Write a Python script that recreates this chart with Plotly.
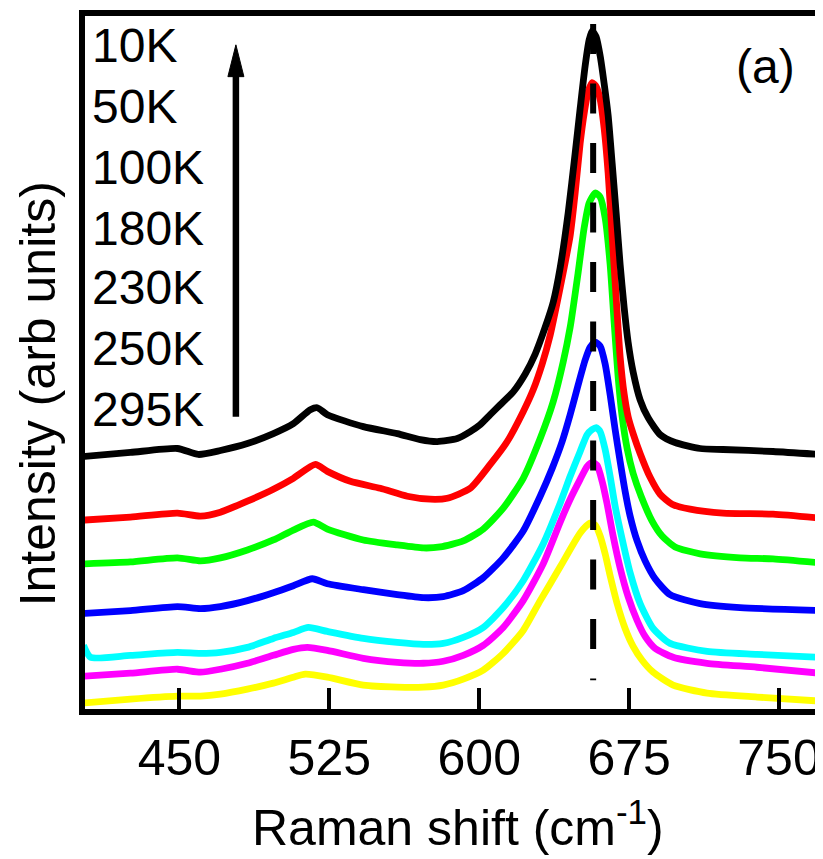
import plotly.graph_objects as go

# ---------------- data ----------------
temperatures = ["10K", "50K", "100K", "180K", "230K", "250K", "295K"]
colors = ["#000000", "#ff0000", "#00ff00", "#0000ff", "#00ffff", "#ff00ff", "#ffff00"]

shift_10K = [402, 425.5, 449, 459.5, 470.5, 484, 497, 507, 515.5, 519, 524, 542, 559, 570.5, 579, 589, 595.5,
             600.5, 605.5, 610.5, 617, 623, 628, 633, 637, 640.5, 644.5, 648, 650.5, 653, 655, 656.5, 658.5,
             660.5, 662.5, 664.5, 666.5, 668.5, 670.5, 672.5, 674.5, 677, 680.5, 684.5, 690.5, 698, 710.5,
             722, 747, 770.5]
int_10K = [25.7, 26.1, 26.5, 25.9, 26.3, 27.0, 28.0, 29.0, 30.4, 30.6, 29.9, 28.7, 28.0, 27.4, 27.2, 27.5, 28.2,
           28.9, 29.9, 30.9, 32.2, 34.0, 36.0, 38.7, 41.2, 44.7, 50.2, 56.2, 60.7, 65.0, 67.6, 68.5, 67.9,
           66.0, 63.2, 60.0, 55.2, 50.2, 45.0, 40.7, 37.2, 34.2, 31.4, 29.6, 27.9, 27.1, 26.5,
           26.4, 26.2, 25.9]

shift_50K = [402, 425.5, 449, 460.5, 470.5, 484, 497, 507, 518, 524, 535.5, 550.5, 564, 575.5, 584, 595.5, 605.5,
             614, 622, 627, 631.5, 635.5, 639, 642, 645.5, 648, 650.5, 652.5, 654.5, 656.5, 658.5, 660.5,
             662.5, 664.5, 666.5, 668.5, 670.5, 672.5, 674.5, 677, 680.5, 685.5, 690.5, 696.5, 705.5, 722,
             747, 770.5]
int_50K = [19.3, 19.6, 20.0, 19.7, 20.1, 21.2, 22.4, 23.5, 24.9, 24.2, 23.2, 22.5, 21.7, 21.4, 21.5, 22.5, 24.9,
           27.2, 30.2, 32.4, 35.0, 37.9, 41.2, 44.2, 47.9, 52.2, 57.2, 60.2, 62.4, 63.3, 62.9, 61.6,
           58.7, 54.2, 47.9, 41.7, 35.7, 32.0, 29.7, 28.0, 26.0, 23.6, 21.9, 20.9, 20.4, 20.0,
           19.9, 19.5]

shift_100K = [402, 425.5, 449, 460.5, 470.5, 484, 497, 507, 517, 524, 542, 559, 572, 580.5, 592, 602, 612, 622,
              630.5, 637, 642, 645.5, 649.5, 652.5, 655, 658, 660.5, 663, 665.5, 667.5, 669.5, 671.5, 674,
              677, 681, 686.5, 691.5, 698, 710.5, 730.5, 747, 770.5]
int_100K = [14.9, 15.1, 15.5, 15.2, 15.5, 16.3, 17.3, 18.3, 19.1, 18.4, 17.3, 16.8, 16.5, 16.6, 17.2, 18.4, 20.5,
            23.5, 27.5, 31.2, 35.2, 38.7, 44.2, 48.7, 51.2, 52.2, 51.8, 49.7, 45.0, 39.2, 33.7, 29.7, 26.5,
            24.0, 21.7, 19.2, 17.7, 16.6, 15.9, 15.5, 15.4, 15.0]

shift_180K = [402, 425.5, 449, 460.5, 470.5, 484, 497, 507, 516.5, 524, 542, 559, 572, 582, 592, 602, 612, 622,
              630.5, 636.5, 641.5, 645.5, 649.5, 653, 655.5, 658, 660.5, 663, 665.5, 668, 670.5, 673, 675.5,
              679, 683, 688, 695.5, 710.5, 730.5, 770.5]
int_180K = [9.9, 10.2, 10.6, 10.4, 10.6, 11.2, 12.0, 12.7, 13.4, 12.9, 12.3, 11.8, 11.5, 11.6, 12.2, 13.5, 15.5,
            18.2, 21.7, 24.5, 27.2, 29.9, 32.9, 35.4, 36.7, 37.2, 36.8, 35.0, 31.9, 28.4, 25.2, 22.2, 19.7,
            17.2, 15.2, 13.4, 11.8, 10.9, 10.5, 10.2]

shift_230K = [402, 405.5, 425.5, 449, 460.5, 470.5, 484, 497, 507, 514.5, 524, 542, 559, 572, 582, 592, 602, 612,
              622, 632, 640.5, 645.5, 650.5, 654, 656.5, 658.5, 660.5, 663, 665.5, 668, 671.5, 675.5, 680.5,
              687, 695.5, 714, 739, 770.5]
int_230K = [6.7, 5.5, 5.7, 6.0, 5.9, 6.0, 6.5, 7.4, 8.0, 8.5, 8.1, 7.4, 7.0, 6.8, 6.9, 7.5, 8.5, 10.5,
            13.2, 16.9, 21.0, 23.7, 26.2, 27.9, 28.4, 28.6, 28.2, 26.4, 23.7, 20.7, 17.4, 14.0, 10.9,
            8.4, 6.9, 6.1, 5.8, 5.5]

shift_250K = [402, 425.5, 449, 460.5, 470.5, 484, 497, 507, 514, 524, 542, 559, 572, 582, 592, 602, 612, 622,
              632, 640.5, 645.5, 650.5, 654, 656.5, 659, 661.5, 664, 667, 670.5, 674.5, 679, 683, 688, 697,
              714, 739, 770.5]
int_250K = [3.6, 3.9, 4.3, 4.0, 4.3, 4.9, 5.7, 6.3, 6.5, 6.2, 5.4, 5.0, 4.9, 5.1, 5.7, 6.7, 8.5, 11.2,
            14.9, 19.1, 21.4, 23.4, 24.7, 25.1, 24.8, 23.2, 20.9, 17.7, 14.5, 11.6, 9.2, 7.6, 6.4, 5.5,
            4.9, 4.5, 3.9]

shift_295K = [402, 425.5, 449, 460.5, 470.5, 484, 497, 507, 513, 524, 542, 559, 572, 582, 592, 602, 612, 622,
              630.5, 640.5, 646.5, 650.5, 653.5, 655.5, 658, 660.5, 663, 665.5, 669, 673, 677, 681.5, 687, 697,
              714, 739, 770.5]
int_295K = [0.9, 1.3, 1.6, 1.6, 1.8, 2.3, 2.9, 3.5, 3.8, 3.5, 2.7, 2.5, 2.5, 2.7, 3.3, 4.2, 5.9, 8.2,
            11.2, 14.6, 16.7, 18.0, 18.7, 19.0, 18.8, 17.7, 15.9, 13.7, 10.9, 8.4, 6.6, 5.2, 4.0, 2.7,
            1.9, 1.5, 1.1]

x_ticks = [450, 525, 600, 675, 750]
peak_position = 657            # cm^-1, dashed guide line
peak_guide_span = [69.2, 3.2]  # intensity extent of the guide

series_shift = [shift_10K, shift_50K, shift_100K, shift_180K, shift_230K, shift_250K, shift_295K]
series_int = [int_10K, int_50K, int_100K, int_180K, int_230K, int_250K, int_295K]

FONT = "Liberation Sans, Arial, Helvetica, sans-serif"

# plot area in page pixels (page has an 8px body margin); axis lines sit just outside it
PL, PR, PT, PB = 84.5, 821, 12, 709
X_RANGE = [450 + (PL - 179) / 2, 450 + (PR - 179) / 2]
Y_RANGE = [(712 - PB) / 10, (712 - PT) / 10]
FIG_W, FIG_H = 815, 851


def px_x(px):
    return (px - PL) / (PR - PL)


def px_y(py):
    return (PB - py) / (PB - PT)


fig = go.Figure()

# draw from the bottom (295K) to the top (10K)
for name, col, xs, ys in reversed(list(zip(temperatures, colors, series_shift, series_int))):
    fig.add_trace(go.Scatter(x=xs, y=ys, mode="lines", name=name,
                             line=dict(color=col, width=6.8, shape="spline", smoothing=0.6),
                             showlegend=False, hoverinfo="skip"))

# dashed peak guide
fig.add_trace(go.Scatter(x=[peak_position, peak_position], y=peak_guide_span, mode="lines",
                         line=dict(color="black", width=6, dash="30px,29.5px"),
                         showlegend=False, hoverinfo="skip"))

fig.update_layout(
    width=FIG_W, height=FIG_H,
    margin=dict(l=PL - 8, r=FIG_W - (PR - 8), t=PT - 8, b=FIG_H - (PB - 8), pad=0),
    paper_bgcolor="white", plot_bgcolor="white",
    font=dict(family=FONT, size=50, color="black"),
    xaxis=dict(range=X_RANGE, tickvals=x_ticks, ticks="inside", ticklen=21, tickwidth=4,
               tickcolor="black", showline=True, linewidth=6, linecolor="black", mirror=True,
               showgrid=False, zeroline=False, tickfont=dict(size=50, family=FONT)),
    yaxis=dict(range=Y_RANGE, showticklabels=False, ticks="", showline=True, linewidth=6,
               linecolor="black", showgrid=False, zeroline=False),
)

# axis titles
fig.add_annotation(text="Raman shift (cm<sup>-1</sup>)", xref="paper", yref="paper",
                   x=px_x(458), y=px_y(825), xanchor="center", yanchor="middle", showarrow=False,
                   font=dict(size=50, family=FONT, color="black"))
fig.add_annotation(text="Intensity (arb units)", xref="paper", yref="paper", textangle=-90,
                   x=px_x(37), y=px_y(392), xanchor="center", yanchor="middle", showarrow=False,
                   font=dict(size=50, family=FONT, color="black"))

# thin right frame
fig.add_shape(type="line", xref="paper", yref="paper", x0=1, x1=1, y0=0, y1=1,
              line=dict(color="black", width=2))

# temperature labels
label_y_px = [42, 103.5, 164.5, 225.5, 285.5, 346.5, 407.5]
for t, py in zip(temperatures, label_y_px):
    fig.add_annotation(text=t, xref="paper", yref="paper", x=px_x(90), y=px_y(py),
                       xanchor="left", yanchor="middle", showarrow=False,
                       font=dict(size=48, family=FONT, color="black"))

# "(a)"
fig.add_annotation(text="(a)", xref="paper", yref="paper", x=px_x(765), y=px_y(63),
                   xanchor="center", yanchor="middle", showarrow=False,
                   font=dict(size=48, family=FONT, color="black"))

# upward arrow: shaft + narrow head
fig.add_shape(type="line", xref="paper", yref="paper", x0=px_x(235.5), x1=px_x(235.5),
              y0=px_y(415), y1=px_y(70), line=dict(color="black", width=6.5))
fig.add_shape(type="path", xref="paper", yref="paper",
              path=f"M {px_x(235.5)},{px_y(41)} L {px_x(243.5)},{px_y(73)} L {px_x(227.5)},{px_y(73)} Z",
              fillcolor="black", line=dict(color="black", width=1))

fig.write_html("out.html")
